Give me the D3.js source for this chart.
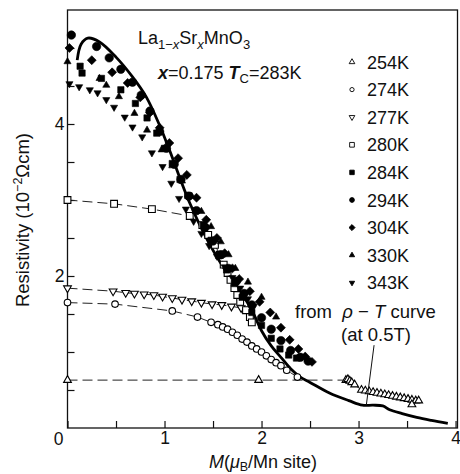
<!DOCTYPE html>
<html>
<head>
<meta charset="utf-8">
<script src="https://cdn.jsdelivr.net/npm/d3@7"></script>
<style>
  body { margin: 0; background: #fff; }
  svg { display: block; font-family: "Liberation Sans", Arial, Helvetica, sans-serif; }
</style>
</head>
<body>
<svg id="chart" width="460" height="474"></svg>
<script>
// values: [M (muB/Mn site), resistivity (10^-2 ohm cm)]
var m254 = [[0,0.63],[1.97,0.63],[2.87,0.63],[2.89,0.64],[2.91,0.62],[2.93,0.6],[2.96,0.57],
  [3.03,0.5],[3.07,0.49],[3.11,0.48],[3.15,0.47],[3.19,0.46],[3.23,0.45],[3.27,0.44],[3.31,0.43],
  [3.35,0.42],[3.39,0.41],[3.43,0.4],[3.47,0.39],[3.51,0.38],[3.55,0.37],[3.59,0.36],[3.62,0.36],[3.55,0.31]];
var m274 = [[0,1.65],[0.49,1.63],[1.08,1.54],[1.34,1.46],[1.48,1.39],[1.55,1.36],[1.6,1.33],[1.65,1.3],
  [1.7,1.26],[1.75,1.22],[1.8,1.17],[1.85,1.13],[1.9,1.08],[1.95,1.04],[2.0,1.0],[2.05,0.95],
  [2.1,0.9],[2.15,0.86],[2.2,0.82],[2.26,0.76],[2.37,0.67]];
var m277 = [[0,1.84],[0.47,1.8],[0.6,1.78],[0.69,1.77],[0.79,1.76],[0.89,1.75],[0.98,1.73],[1.08,1.71],
  [1.18,1.69],[1.28,1.67],[1.38,1.65],[1.49,1.63],[1.59,1.62],[1.69,1.6],[1.79,1.58]];
var m280 = [[0,3.0],[0.48,2.95],[0.87,2.88],[1.26,2.79],[1.39,2.67],[1.45,2.54],[1.52,2.41],[1.57,2.28],
  [1.61,2.15],[1.65,2.04],[1.68,1.95],[1.72,1.84],[1.75,1.75],[1.78,1.66],[1.84,1.55],[1.88,1.46],[1.9,1.39]];
var m284 = [[0.13,4.76],[0.15,4.67],[0.35,4.6],[0.55,4.45],[0.7,4.27],[0.82,4.08],[0.92,3.88],[1.0,3.68],
  [1.08,3.48],[1.16,3.27],[1.24,3.06],[1.32,2.86],[1.4,2.67],[1.48,2.47],[1.56,2.27],[1.64,2.08],
  [1.72,1.9],[1.8,1.72],[1.9,1.52],[2.0,1.35],[2.1,1.18],[2.19,1.04],[2.28,0.96],[2.36,0.92]];
var m294 = [[0.04,5.17],[0.3,5.02],[0.43,4.87],[0.55,4.72],[0.67,4.55],[0.76,4.38],[0.85,4.17],[0.95,3.9],
  [1.02,3.68],[1.1,3.47],[1.17,3.27],[1.25,3.05],[1.33,2.86],[1.42,2.64],[1.5,2.46],[1.58,2.28],
  [1.66,2.1],[1.74,1.93],[1.82,1.77],[1.9,1.62],[2.0,1.45],[2.1,1.3],[2.2,1.15],[2.3,1.02],[2.4,0.93],[2.48,0.88]];
var m304 = [[0.02,5.0],[0.25,4.84],[0.46,4.68],[0.62,4.54],[0.75,4.35],[0.85,4.15],[0.95,3.95],[1.05,3.75],
  [1.14,3.55],[1.23,3.33],[1.33,3.03],[1.43,2.74],[1.54,2.5],[1.62,2.3],[1.7,2.1],[1.77,1.96],[1.88,1.8],
  [1.98,1.66],[2.09,1.52],[2.2,1.32],[2.29,1.16],[2.38,1.04],[2.45,0.94],[2.52,0.87]];
var m330 = [[0.0,4.82],[0.33,4.6],[0.4,4.51],[0.53,4.36],[0.69,4.14],[0.82,3.92],[0.97,3.66],[1.08,3.45],
  [1.18,3.25],[1.28,3.05],[1.38,2.85],[1.48,2.65],[1.58,2.45],[1.66,2.28],[1.73,2.1],[1.86,1.92],
  [2.0,1.72],[2.15,1.46]];
var m343 = [[0.02,4.53],[0.12,4.49],[0.23,4.45],[0.31,4.41],[0.4,4.32],[0.48,4.22],[0.59,4.09],[0.67,3.96],
  [0.77,3.83],[0.87,3.62],[0.98,3.44],[1.07,3.22],[1.15,3.02],[1.22,2.88],[1.3,2.72],[1.38,2.56],
  [1.46,2.4],[1.54,2.26],[1.62,2.12],[1.7,1.98],[1.78,1.84],[1.86,1.7],[1.92,1.6]];
// solid curve from the rho-T curve at 0.5 T
var rhoT = [[0.1,4.84],[0.14,5.05],[0.21,5.13],[0.33,5.08],[0.5,4.88],[0.67,4.62],[0.81,4.36],[0.95,3.98],
  [1.05,3.66],[1.26,2.96],[1.46,2.43],[1.67,1.99],[1.8,1.76],[1.9,1.55],[2.0,1.28],[2.1,1.08],[2.2,0.93],
  [2.3,0.78],[2.4,0.67],[2.5,0.6],[2.7,0.46],[2.9,0.36],[3.04,0.3],[3.15,0.3],[3.25,0.29],[3.32,0.24],
  [3.45,0.19],[3.6,0.14],[3.75,0.1],[3.92,0.06]];
var leader = [[3.16,1.09],[3.08,0.3]];

var legendLabels = ['254K','274K','277K','280K','284K','294K','304K','330K','343K'];
var xTicks = [0,0.5,1,1.5,2,2.5,3,3.5,4];
var yTicks = [0.5,1,1.5,2,2.5,3,3.5,4,4.5,5];
var xLabelTicks = [1,2,3,4];
var yLabelTicks = [2,4];

var svg = d3.select('#chart');
var x = d3.scaleLinear().domain([0, 4.02]).range([67.5, 457.5]);
var y = d3.scaleLinear().domain([0, 5.5]).range([428, 10]);

// series styling
var series = [
  {data: m254, label: legendLabels[0], sym: d3.symbolTriangle, fill: false, dash: true, size: 26, lsize: 14},
  {data: m274, label: legendLabels[1], sym: d3.symbolCircle, fill: false, dash: true, size: 34, lsize: 14},
  {data: m277, label: legendLabels[2], sym: d3.symbolTriangle, fill: false, dash: true, size: 26, lsize: 14, flip: true},
  {data: m280, label: legendLabels[3], sym: d3.symbolSquare, fill: false, dash: true, size: 46, lsize: 22},
  {data: m284, label: legendLabels[4], sym: d3.symbolSquare, fill: true, size: 40, lsize: 20},
  {data: m294, label: legendLabels[5], sym: d3.symbolCircle, fill: true, size: 56, lsize: 18},
  {data: m304, label: legendLabels[6], sym: d3.symbolSquare, fill: true, size: 40, lsize: 18, rot: true},
  {data: m330, label: legendLabels[7], sym: d3.symbolTriangle, fill: true, size: 22, lsize: 12},
  {data: m343, label: legendLabels[8], sym: d3.symbolTriangle, fill: true, size: 22, lsize: 12, flip: true}
];

function symTransform(s, px, py) {
  var t = 'translate(' + px + ',' + py + ')';
  if (s.flip) t += ' rotate(180)';
  if (s.rot) t += ' rotate(45)';
  return t;
}

// axes, ticks inside
var xAxis = d3.axisBottom(x).tickValues(xTicks).tickSizeInner(-7).tickSizeOuter(0).tickPadding(4)
  .tickFormat(function(d){ return xLabelTicks.indexOf(d) >= 0 ? d : ''; });
var yAxis = d3.axisLeft(y).tickValues(yTicks).tickSizeInner(-7).tickSizeOuter(0).tickPadding(3)
  .tickFormat(function(d){ return yLabelTicks.indexOf(d) >= 0 ? d : ''; });

var gx = svg.append('g').attr('transform', 'translate(0,' + y(0) + ')').call(xAxis);
var gy = svg.append('g').attr('transform', 'translate(' + x(0) + ',0)').call(yAxis);
[gx, gy].forEach(function(g){
  g.select('.domain').remove();
  g.selectAll('line').attr('stroke', '#111').attr('stroke-width', 1.2);
  g.selectAll('text').attr('font-size', 17.5).attr('fill', '#111').attr('font-family', null);
});
svg.append('text').attr('x', x(0) - 4).attr('y', y(0) + 17).attr('text-anchor', 'end')
  .attr('font-size', 17.5).attr('fill', '#111').text('0');

// frame
svg.append('rect').attr('x', x(0)).attr('y', y(5.5)).attr('width', x(4.02) - x(0)).attr('height', y(0) - y(5.5))
  .attr('fill', 'none').attr('stroke', '#111').attr('stroke-width', 1.3);

var line = d3.line().x(function(d){ return x(d[0]); }).y(function(d){ return y(d[1]); });

// dashed guide lines
series.filter(function(s){ return s.dash; }).forEach(function(s){
  svg.append('path').attr('d', line(s.data)).attr('fill', 'none').attr('stroke', '#222')
    .attr('stroke-width', 1).attr('stroke-dasharray', '10,5');
});

// solid rho-T curve
svg.append('path').attr('d', line.curve(d3.curveCatmullRom)(rhoT)).attr('fill', 'none')
  .attr('stroke', '#000').attr('stroke-width', 2.8).attr('stroke-linejoin', 'round');
line.curve(d3.curveLinear);

// markers
series.forEach(function(s){
  var gen = d3.symbol().type(s.sym).size(s.size);
  svg.append('g').selectAll('path').data(s.data).enter().append('path')
    .attr('d', gen)
    .attr('transform', function(d){ return symTransform(s, x(d[0]), y(d[1])); })
    .attr('fill', s.fill ? '#000' : '#fff')
    .attr('stroke', '#000').attr('stroke-width', s.fill ? 0.6 : 1.1);
});

// leader line to the curve
svg.append('path').attr('d', line(leader)).attr('stroke', '#111').attr('stroke-width', 1).attr('fill', 'none');

// legend
var lg = svg.append('g');
series.forEach(function(s, i){
  var cy = 62 + i * 27.6;
  var gen = d3.symbol().type(s.sym).size(s.lsize);
  lg.append('path').attr('d', gen).attr('transform', symTransform(s, 352, cy))
    .attr('fill', s.fill ? '#000' : '#fff').attr('stroke', '#000').attr('stroke-width', 0.9);
  lg.append('text').attr('x', 367).attr('y', cy + 6.5).attr('font-size', 18).attr('fill', '#111').text(s.label);
});

var t1 = svg.append('text').attr('x', 295).attr('y', 318).attr('font-size', 18.5).attr('fill', '#111')
  .attr('xml:space', 'preserve');
t1.append('tspan').text('from  ');
t1.append('tspan').attr('font-style', 'italic').text('ρ');
t1.append('tspan').text(' − ');
t1.append('tspan').attr('font-style', 'italic').text('T');
t1.append('tspan').text(' curve');
svg.append('text').attr('x', 376).attr('y', 341).attr('text-anchor', 'middle').attr('font-size', 18.5)
  .attr('fill', '#111').text('(at 0.5T)');

// compound title
var tt = svg.append('text').attr('x', 138).attr('y', 44).attr('font-size', 18).attr('fill', '#111');
tt.append('tspan').text('La');
tt.append('tspan').attr('font-size', 13).attr('dy', 5).text('1−');
tt.append('tspan').attr('font-size', 13).attr('font-style', 'italic').text('x');
tt.append('tspan').attr('dy', -5).text('Sr');
tt.append('tspan').attr('font-size', 13).attr('font-style', 'italic').attr('dy', 5).text('x');
tt.append('tspan').attr('dy', -5).text('MnO');
tt.append('tspan').attr('font-size', 13).attr('dy', 5).text('3');

var t2 = svg.append('text').attr('x', 158).attr('y', 79).attr('font-size', 18).attr('fill', '#111');
t2.append('tspan').attr('font-weight', 'bold').attr('font-style', 'italic').text('x');
t2.append('tspan').text('=0.175 ');
t2.append('tspan').attr('font-weight', 'bold').attr('font-style', 'italic').text('T');
t2.append('tspan').attr('font-size', 13).attr('dy', 4).text('C');
t2.append('tspan').attr('dy', -4).text('=283K');

// axis titles
var xt = svg.append('text').attr('x', 263).attr('y', 468).attr('text-anchor', 'middle')
  .attr('font-size', 18).attr('fill', '#111');
xt.append('tspan').attr('font-style', 'italic').text('M');
xt.append('tspan').text('(');
xt.append('tspan').attr('font-style', 'italic').text('μ');
xt.append('tspan').attr('font-size', 12.5).attr('dy', 3).text('B');
xt.append('tspan').attr('dy', -3).text('/Mn site)');

var yt = svg.append('text').attr('transform', 'translate(29,220) rotate(-90)').attr('text-anchor', 'middle')
  .attr('font-size', 18.5).attr('fill', '#111');
yt.append('tspan').text('Resistivity (10');
yt.append('tspan').attr('font-size', 12.5).attr('dy', -7).text('−2');
yt.append('tspan').attr('dy', 7).text('Ωcm)');
</script>
</body>
</html>
